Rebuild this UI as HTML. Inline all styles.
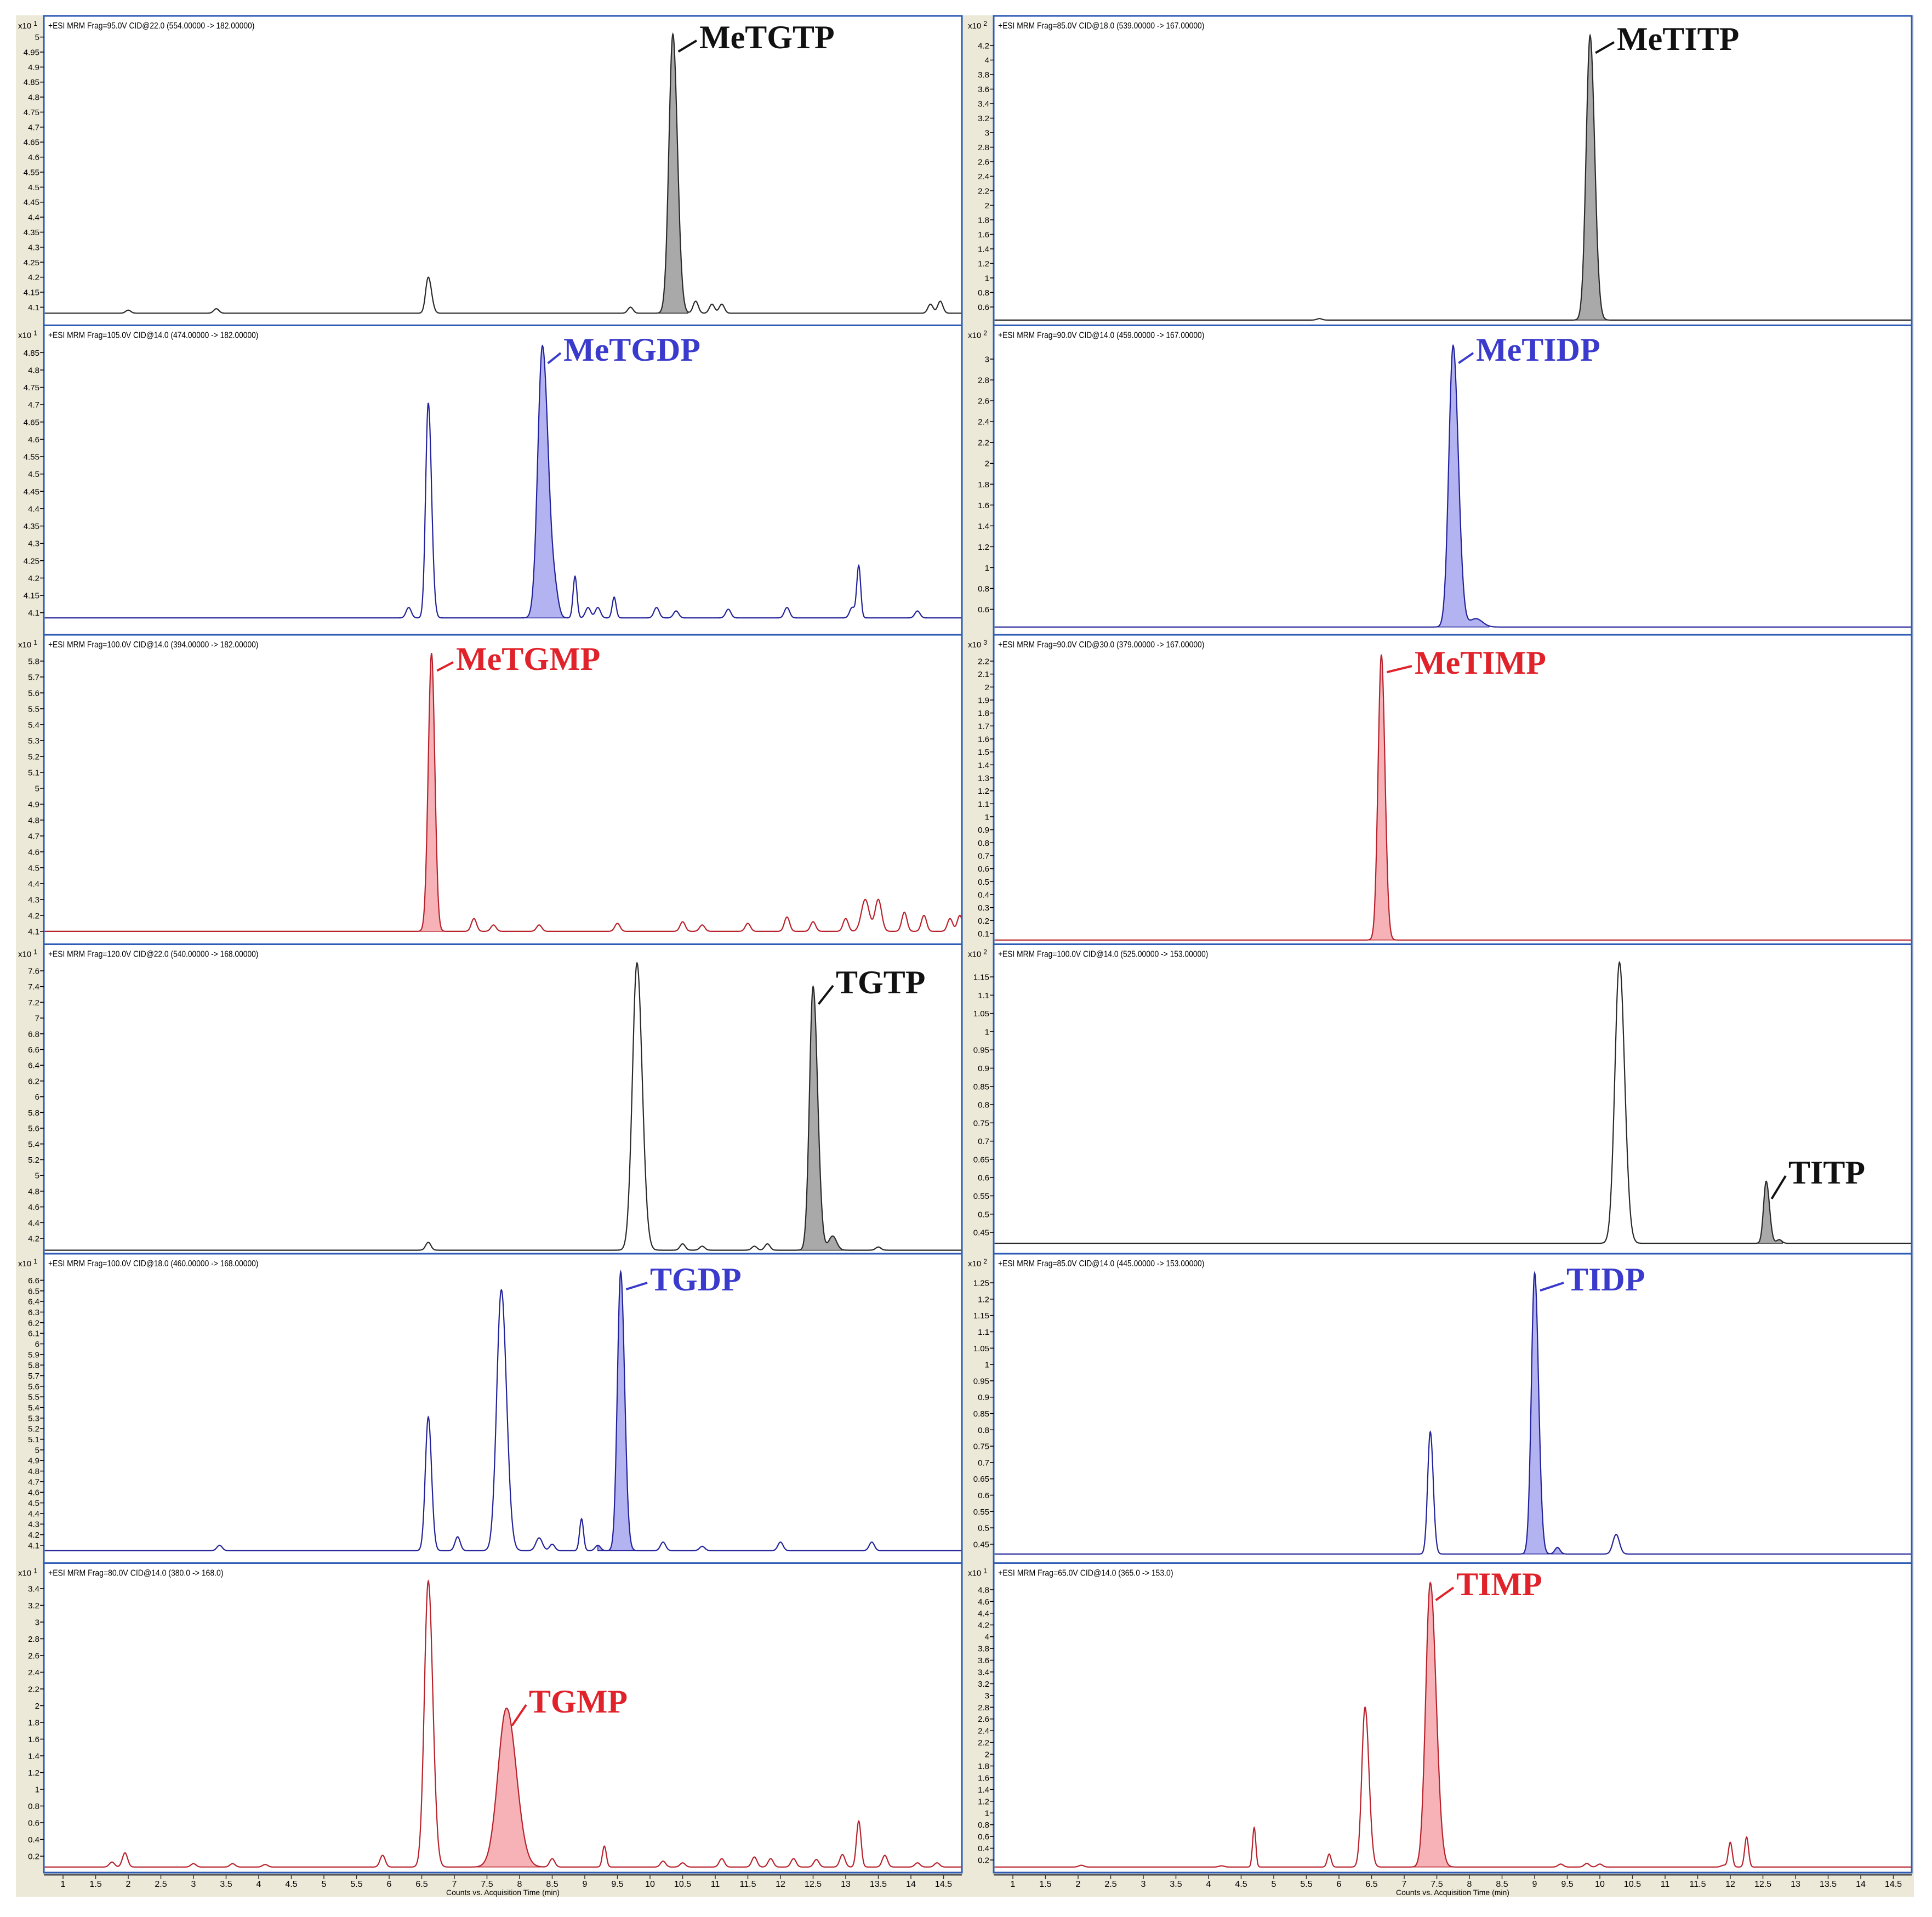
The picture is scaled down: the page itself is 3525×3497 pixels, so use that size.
<!DOCTYPE html>
<html><head><meta charset="utf-8">
<style>
html,body{margin:0;padding:0;background:#fff;}
svg{display:block;}
</style></head>
<body>
<svg id="chart" xmlns="http://www.w3.org/2000/svg" width="3525" height="3497" viewBox="0 0 3525 3497">
<rect x="0" y="0" width="3525" height="3497" fill="#ffffff"/>
<rect x="29" y="28" width="3463" height="3432" fill="#ece9d8"/>
</svg>
<script>
// ---- data ----
const xTicks = [1,1.5,2,2.5,3,3.5,4,4.5,5,5.5,6,6.5,7,7.5,8,8.5,9,9.5,10,10.5,11,11.5,12,12.5,13,13.5,14,14.5];
const panelHeaders = [
 "+ESI MRM Frag=95.0V CID@22.0 (554.00000 -> 182.00000)",
 "+ESI MRM Frag=105.0V CID@14.0 (474.00000 -> 182.00000)",
 "+ESI MRM Frag=100.0V CID@14.0 (394.00000 -> 182.00000)",
 "+ESI MRM Frag=120.0V CID@22.0 (540.00000 -> 168.00000)",
 "+ESI MRM Frag=100.0V CID@18.0 (460.00000 -> 168.00000)",
 "+ESI MRM Frag=80.0V CID@14.0 (380.0 -> 168.0)",
 "+ESI MRM Frag=85.0V CID@18.0 (539.00000 -> 167.00000)",
 "+ESI MRM Frag=90.0V CID@14.0 (459.00000 -> 167.00000)",
 "+ESI MRM Frag=90.0V CID@30.0 (379.00000 -> 167.00000)",
 "+ESI MRM Frag=100.0V CID@14.0 (525.00000 -> 153.00000)",
 "+ESI MRM Frag=85.0V CID@14.0 (445.00000 -> 153.00000)",
 "+ESI MRM Frag=65.0V CID@14.0 (365.0 -> 153.0)"
];
const panelExponents = [1,1,1,1,1,1,2,2,3,2,2,1];
const panelDomains = [[4.045,5.065],[4.041,4.924],[4.029,5.955],[4.026,7.917],[3.947,6.835],[0.023,3.685],
                      [0.37,4.585],[0.371,3.308],[0.03,2.39],[0.396,1.235],[0.397,1.334],[0.013,5.224]];
const panelTicks = [[4.1,5,0.05],[4.1,4.85,0.05],[4.1,5.8,0.1],[4.2,7.6,0.2],[4.1,6.6,0.1],[0.2,3.4,0.2],
                    [0.6,4.2,0.2],[0.6,3,0.2],[0.1,2.2,0.1],[0.45,1.15,0.05],[0.45,1.25,0.05],[0.2,4.8,0.2]];
const panelBaselines = [4.08,4.085,4.1,4.05,4.05,0.07,0.42,0.43,0.05,0.42,0.42,0.08];
const panelColors = ["black","blue","red","black","blue","red","black","blue","red","black","blue","red"];
const panelFills = [[10.0,10.58],[7.9,8.7],[6.45,6.9],[12.2,13.0],[9.2,9.9],[7.1,8.35],
                    [9.5,10.15],[7.35,8.3],[6.45,6.95],[12.35,12.8],[8.7,9.5],[7.0,8.3]];
// peaks: [retention time, height above baseline, sigma left, sigma right]
const peaksMeTGTP = [[6.6,0.12,0.04,0.05],[10.35,0.93,0.06,0.07],[2.0,0.01],[3.35,0.015],[9.7,0.02],[10.7,0.04],[10.95,0.03],[11.1,0.03],[14.3,0.03],[14.45,0.04]];
const peaksMeTGDP = [[6.3,0.03],[6.6,0.62,0.04,0.05],[8.35,0.785,0.07,0.09],[8.55,0.05,0.05,0.05],[8.85,0.12,0.03,0.03],[9.05,0.03],[9.2,0.03],[9.45,0.06,0.03],[10.1,0.03],[10.4,0.02],[11.2,0.025],[12.1,0.03],[13.1,0.03],[13.2,0.15,0.03,0.03],[14.1,0.02]];
const peaksMeTGMP = [[6.65,1.75,0.05,0.05],[7.3,0.08],[7.6,0.04],[8.3,0.04],[9.5,0.05],[10.5,0.06],[10.8,0.04],[11.5,0.05],[12.1,0.09],[12.5,0.06],[13.0,0.08],[13.3,0.2,0.06],[13.5,0.2,0.05],[13.9,0.12],[14.2,0.1],[14.6,0.08],[14.75,0.1]];
const peaksTGTP = [[6.6,0.1,0.04],[9.8,3.65,0.07,0.08],[10.5,0.08],[10.8,0.05],[11.6,0.05],[11.8,0.08],[12.5,3.35,0.055,0.07],[12.8,0.18,0.06],[13.5,0.04]];
const peaksTGDP = [[3.4,0.05],[6.6,1.26,0.045,0.05],[7.05,0.13,0.04],[7.72,2.46,0.07,0.08],[8.3,0.12,0.05],[8.5,0.06],[8.95,0.3,0.03],[9.2,0.05],[9.55,2.63,0.05,0.06],[10.2,0.08],[10.8,0.04],[12.0,0.08],[13.4,0.08]];
const peaksTGMP = [[1.75,0.06],[1.95,0.17,0.04],[3.0,0.04],[3.6,0.04],[4.1,0.03],[5.9,0.14,0.04],[6.6,3.42,0.06,0.07],[7.8,1.9,0.13,0.15],[8.5,0.1],[9.3,0.25,0.03],[10.2,0.07],[10.5,0.05],[11.1,0.1],[11.6,0.12],[11.85,0.1],[12.2,0.1],[12.55,0.09],[12.95,0.15],[13.2,0.55,0.035],[13.6,0.14],[14.1,0.05],[14.4,0.05]];
const peaksMeTITP = [[5.7,0.02],[9.85,3.92,0.06,0.07]];
const peaksMeTIDP = [[7.75,2.7,0.065,0.08],[8.1,0.08,0.1]];
const peaksMeTIMP = [[6.65,2.2,0.05,0.055]];
const peaksTITP = [[10.3,0.77,0.07,0.08],[12.55,0.17,0.04,0.05],[12.75,0.01]];
const peaksTIDP = [[7.4,0.374,0.04,0.045],[9.0,0.86,0.05,0.06],[9.35,0.02],[10.25,0.06,0.05]];
const peaksTIMP = [[2.05,0.03],[4.2,0.02],[4.7,0.67,0.025],[5.85,0.22,0.03],[6.4,2.72,0.05,0.06],[7.4,4.84,0.07,0.09],[9.4,0.05],[9.8,0.06],[10.0,0.05],[11.9,0.03],[12.0,0.42,0.03],[12.25,0.51,0.03]];
const panelPeaks = [peaksMeTGTP,peaksMeTGDP,peaksMeTGMP,peaksTGTP,peaksTGDP,peaksTGMP,peaksMeTITP,peaksMeTIDP,peaksMeTIMP,peaksTITP,peaksTIDP,peaksTIMP];
const compoundNames = ["MeTGTP","MeTGDP","MeTGMP","TGTP","TGDP","TGMP","MeTITP","MeTIDP","MeTIMP","TITP","TIDP","TIMP"];
const labelledPeakTimes = [10.35,8.35,6.65,12.5,9.55,7.8,9.85,7.75,6.65,12.55,9.0,7.4];

// ---- layout ----
const NS = "http://www.w3.org/2000/svg";
const svg = document.getElementById("chart");
const colLeft = [80, 1813], colRight = [1755, 3488], colX1 = [115, 1848];
const pxPerMin = 119, tMin = 0.72, tMax = 14.78;
const panelTop0 = 29, panelH = 564.5;
const labelPos = [[1276,88],[1028,658],[832,1222],[1525,1812],[1186,2354],[965,3124],
                  [2950,91],[2693,658],[2581,1229],[3263,2159],[2858,2354],[2657,2910]];
const lineCol = {black:"#2a2a2a", blue:"#23239a", red:"#b8222c"};
const fillCol = {black:"#a9a9a9", blue:"#b3b3f2", red:"#f6b2b6"};
const textCol = {black:"#111111", blue:"#3a3acc", red:"#e0222a"};

function mk(tag, attrs, parent){ const e=document.createElementNS(NS,tag); for(const k in attrs) e.setAttribute(k,attrs[k]); (parent||svg).appendChild(e); return e; }
function signal(peaks, base, t){ let v=base; for(const p of peaks){ const sl=p[2]||0.04, sr=p[3]||sl; const s=t<p[0]?sl:sr; v+=p[1]*Math.exp(-0.5*((t-p[0])/s)**2);} return v; }

for(let i=0;i<12;i++){
  const col = i<6?0:1, row = i%6;
  const top = panelTop0 + row*panelH, bot = top+panelH;
  const L = colLeft[col], R = colRight[col];
  const xS = t => colX1[col] + (t-1)*pxPerMin;
  const [d0,d1] = panelDomains[i];
  const yS = v => (bot-3) - (v-d0)/(d1-d0)*(panelH-6);
  const g = mk("g",{});
  
  
  const bg = mk("rect",{x:L,y:top,width:R-L,height:panelH,fill:"#ffffff"},g);
  
  
  const clipId = "clip"+i;
  const cp = mk("clipPath",{id:clipId},g);
  mk("rect",{x:L,y:top,width:R-L,height:panelH},cp);
  const peaks = panelPeaks[i], base = panelBaselines[i];
  // fill
  const [f0,f1] = panelFills[i];
  let fd = "";
  for(let t=f0;t<=f1+1e-9;t+=0.005){ fd += (fd?"L":"M")+xS(t).toFixed(1)+","+yS(signal(peaks,base,t)).toFixed(1); }
  fd += "L"+xS(f1).toFixed(1)+","+yS(Math.min(signal(peaks,base,f1),signal(peaks,base,f0))).toFixed(1)+"L"+xS(f0).toFixed(1)+","+yS(Math.min(signal(peaks,base,f1),signal(peaks,base,f0))).toFixed(1)+"Z";
  const fill = mk("path",{d:fd,fill:fillCol[panelColors[i]],stroke:lineCol[panelColors[i]],"stroke-width":1.5,"clip-path":"url(#"+clipId+")"},g);
  
  
  // trace
  let d = "";
  for(let t=tMin;t<=tMax+1e-9;t+=0.005){ d += (d?"L":"M")+xS(t).toFixed(1)+","+yS(signal(peaks,base,t)).toFixed(1); }
  const tr = mk("path",{d:d,fill:"none",stroke:lineCol[panelColors[i]],"stroke-width":2.2,"clip-path":"url(#"+clipId+")"},g);
  
  
  // border
  const br = mk("rect",{x:L,y:top,width:R-L,height:panelH,fill:"none",stroke:"#2d5bb5","stroke-width":3},g);
  
  
  // header
  const hd = mk("text",{x:L+8,y:top+23,"font-family":"Liberation Sans, sans-serif","font-size":16,fill:"#000",textLength:panelHeaders[i].length*7.1,lengthAdjust:"spacingAndGlyphs"},g);
  hd.textContent = panelHeaders[i];
  
  
  // exponent
  const ex = mk("text",{x:L-47,y:top+23,"font-family":"Liberation Sans, sans-serif","font-size":15,fill:"#000"},g);
  ex.textContent = "x10";
  const sup = mk("tspan",{dx:4,dy:-5,"font-size":12},ex);
  sup.textContent = String(panelExponents[i]);
  
  
  // y ticks
  const [tk0,tk1,tks] = panelTicks[i];
  const n = Math.round((tk1-tk0)/tks);
  for(let k=0;k<=n;k++){
    const v = tk0 + k*tks, y = yS(v);
    const tl = mk("line",{x1:L-7,x2:L,y1:y,y2:y,stroke:"#000","stroke-width":1.5},g);
    
    
    const lb = mk("text",{x:L-8,y:y+5.5,"text-anchor":"end","font-family":"Liberation Sans, sans-serif","font-size":15,fill:"#000"},g);
    lb.textContent = String(parseFloat(v.toFixed(3)));
    
    
  }
  // compound label
  const c = panelColors[i], tp = labelledPeakTimes[i];
  const ax = xS(tp), ay = yS(signal(peaks,base,tp));
  const [lx,ly] = labelPos[i];
  const ld = mk("line",{x1:lx-5,y1:ly-14,x2:ax+10,y2:ay+32,stroke:textCol[c],"stroke-width":4},g);
  
  
  const lt = mk("text",{x:lx,y:ly,"font-family":"Liberation Serif, serif","font-weight":"bold","font-size":60,fill:textCol[c]},g);
  lt.textContent = compoundNames[i];
  
  
}
// x axes
for(let col=0;col<2;col++){
  const L = colLeft[col], R = colRight[col];
  const xS = t => colX1[col] + (t-1)*pxPerMin;
  const ax = mk("line",{x1:L,x2:R,y1:3420,y2:3420,stroke:"#555","stroke-width":3});
  
  
  for(const t of xTicks){
    const tl = mk("line",{x1:xS(t),x2:xS(t),y1:3420,y2:3428,stroke:"#333","stroke-width":1.5});
    
    
    const lb = mk("text",{x:xS(t),y:3442,"text-anchor":"middle","font-family":"Liberation Sans, sans-serif","font-size":16,fill:"#000"});
    lb.textContent = String(t);
    
    
  }
  const tt = mk("text",{x:(L+R)/2,y:3457,"text-anchor":"middle","font-family":"Liberation Sans, sans-serif","font-size":14,fill:"#000"});
  tt.textContent = "Counts vs. Acquisition Time (min)";
  
  
}
</script>
</body></html>
